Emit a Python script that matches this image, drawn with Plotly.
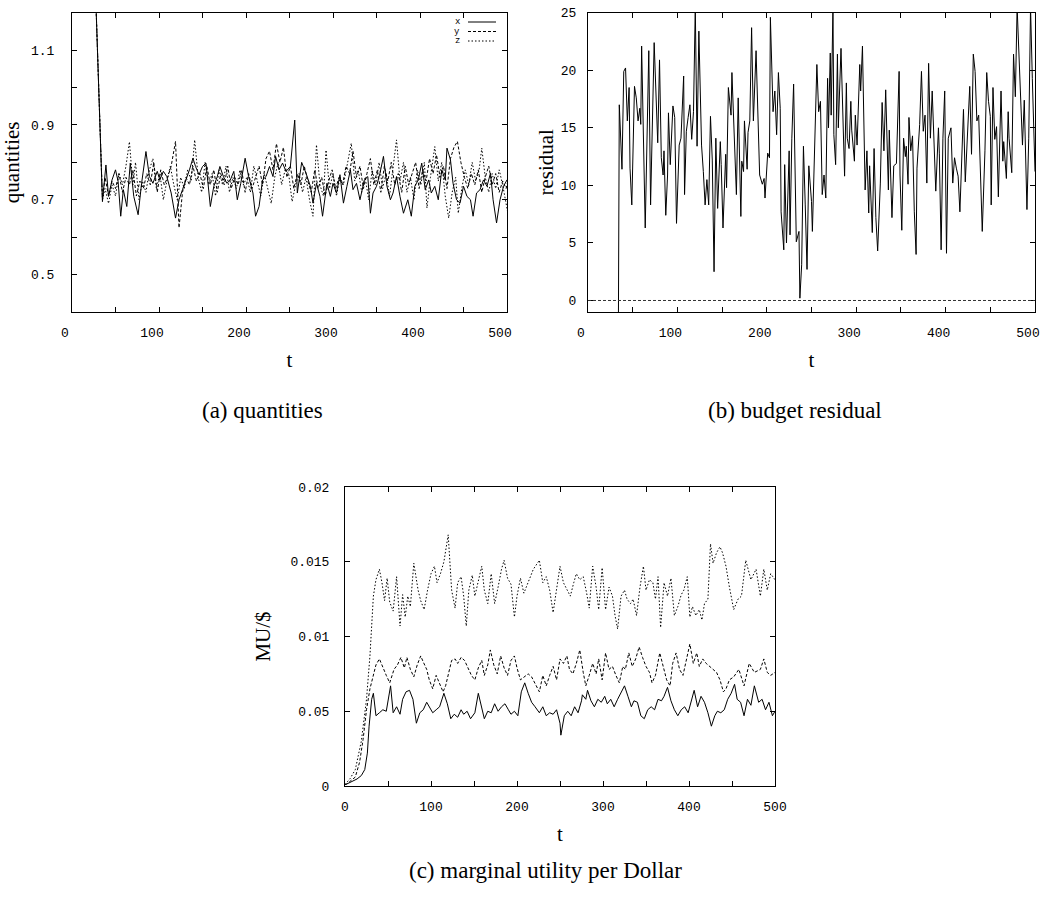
import plotly.graph_objects as go
import numpy as np

# ---------------- (a) quantities ----------------
qx_t = [0, 14, 27, 35, 39, 42, 46, 50, 53, 56, 59, 63, 67, 71, 76, 80, 85, 89, 93, 98, 101, 105, 109, 114, 119,
        123, 127, 131, 135, 139, 142, 146, 150, 154, 159, 163, 167, 170, 174, 178, 182, 186, 190, 194, 199,
        203, 208, 211, 215, 219, 223, 227, 231, 234, 238, 242, 246, 251, 256, 259, 264, 269, 274, 277, 281,
        285, 288, 293, 297, 300, 304, 308, 312, 316, 320, 323, 327, 331, 336, 340, 343, 346, 350, 354, 358,
        362, 366, 369, 373, 377, 381, 386, 390, 394, 398, 402, 406, 410, 413, 417, 421, 425, 429, 431, 435,
        438, 442, 446, 450, 454, 458, 461, 465, 469, 473, 477, 481, 484, 488, 492, 496, 500, 504]
qx_v = [3.0, 1.9, 1.26, 0.695, 0.793, 0.709, 0.753, 0.78, 0.749, 0.656, 0.727, 0.682, 0.798, 0.709, 0.66, 0.744,
        0.829, 0.762, 0.744, 0.776, 0.753, 0.776, 0.762, 0.718, 0.651, 0.70, 0.727, 0.753, 0.78, 0.811, 0.789,
        0.767, 0.789, 0.798, 0.682, 0.736, 0.762, 0.789, 0.762, 0.744, 0.753, 0.776, 0.70, 0.744, 0.811, 0.762,
        0.718, 0.656, 0.682, 0.753, 0.762, 0.789, 0.762, 0.816, 0.78, 0.798, 0.776, 0.789, 0.913, 0.718, 0.80,
        0.771, 0.736, 0.691, 0.744, 0.709, 0.656, 0.744, 0.709, 0.744, 0.718, 0.767, 0.691, 0.736, 0.78, 0.727,
        0.744, 0.70, 0.753, 0.762, 0.664, 0.718, 0.736, 0.771, 0.816, 0.736, 0.70, 0.718, 0.762, 0.709, 0.664,
        0.70, 0.656, 0.736, 0.753, 0.798, 0.727, 0.753, 0.718, 0.736, 0.70, 0.78, 0.753, 0.838, 0.807, 0.744,
        0.70, 0.691, 0.736, 0.709, 0.70, 0.656, 0.718, 0.727, 0.753, 0.736, 0.771, 0.70, 0.638, 0.70, 0.736,
        0.753, 0.736]

qy_t = [0, 14, 27, 35, 38, 42, 46, 50, 54, 58, 62, 66, 70, 74, 78, 82, 86, 90, 94, 98, 102, 106, 110, 114, 119,
        123, 127, 131, 135, 139, 143, 147, 151, 155, 159, 163, 167, 171, 175, 179, 183, 187, 191, 195, 199,
        203, 207, 211, 215, 219, 223, 227, 231, 235, 239, 243, 247, 251, 255, 259, 263, 267, 271, 275, 279,
        283, 287, 291, 295, 299, 303, 307, 311, 315, 319, 323, 327, 331, 335, 339, 343, 347, 351, 355, 359,
        363, 367, 371, 375, 379, 383, 387, 391, 395, 399, 403, 407, 411, 415, 419, 423, 427, 431, 435, 439,
        443, 447, 451, 455, 459, 463, 467, 471, 475, 479, 483, 487, 491, 495, 499, 503]
qy_v = [3.0, 1.9, 1.26, 0.70, 0.76, 0.71, 0.75, 0.73, 0.77, 0.72, 0.76, 0.74, 0.78, 0.71, 0.75, 0.73, 0.77, 0.74,
        0.80, 0.72, 0.78, 0.74, 0.76, 0.79, 0.856, 0.625, 0.72, 0.76, 0.74, 0.79, 0.75, 0.77, 0.73, 0.79, 0.74,
        0.78, 0.72, 0.77, 0.74, 0.79, 0.73, 0.76, 0.74, 0.78, 0.72, 0.77, 0.73, 0.76, 0.79, 0.74, 0.81, 0.83,
        0.78, 0.85, 0.80, 0.84, 0.76, 0.79, 0.73, 0.77, 0.74, 0.79, 0.75, 0.72, 0.78, 0.73, 0.76, 0.71, 0.75,
        0.78, 0.73, 0.76, 0.74, 0.79, 0.77, 0.83, 0.76, 0.79, 0.73, 0.77, 0.81, 0.74, 0.78, 0.72, 0.79, 0.75,
        0.80, 0.74, 0.77, 0.72, 0.79, 0.74, 0.77, 0.80, 0.73, 0.78, 0.75, 0.81, 0.77, 0.82, 0.76, 0.79, 0.73,
        0.81, 0.84, 0.856, 0.80, 0.76, 0.73, 0.77, 0.74, 0.78, 0.72, 0.76, 0.79, 0.74, 0.77, 0.72, 0.75, 0.73,
        0.77]

qz_t = [0, 14, 27, 35, 38, 42, 46, 50, 54, 58, 62, 66, 70, 73, 77, 81, 85, 89, 93, 97, 101, 105, 109, 113, 117,
        121, 125, 129, 133, 137, 141, 145, 149, 153, 157, 161, 165, 169, 173, 177, 181, 185, 189, 193, 197,
        201, 205, 209, 213, 217, 221, 225, 229, 233, 237, 241, 245, 249, 253, 257, 261, 265, 269, 273, 277,
        281, 285, 289, 292, 296, 300, 304, 308, 312, 316, 321, 325, 329, 333, 337, 341, 345, 349, 353, 357,
        361, 365, 369, 373, 377, 381, 385, 389, 393, 397, 401, 405, 408, 412, 417, 421, 425, 429, 433, 437,
        441, 444, 448, 452, 456, 460, 464, 468, 471, 475, 479, 483, 487, 491, 495, 498, 501, 504]
qz_v = [3.0, 1.9, 1.26, 0.70, 0.73, 0.69, 0.74, 0.71, 0.77, 0.74, 0.79, 0.855, 0.74, 0.80, 0.70, 0.75, 0.72, 0.78,
        0.81, 0.73, 0.77, 0.70, 0.75, 0.79, 0.74, 0.70, 0.76, 0.73, 0.78, 0.75, 0.86, 0.76, 0.72, 0.80, 0.74,
        0.77, 0.71, 0.78, 0.74, 0.79, 0.72, 0.76, 0.73, 0.78, 0.74, 0.76, 0.72, 0.79, 0.75, 0.71, 0.77, 0.73,
        0.69, 0.76, 0.80, 0.74, 0.78, 0.77, 0.695, 0.74, 0.77, 0.72, 0.76, 0.70, 0.656, 0.847, 0.74, 0.71,
        0.833, 0.73, 0.77, 0.71, 0.76, 0.74, 0.79, 0.851, 0.75, 0.78, 0.72, 0.76, 0.70, 0.78, 0.74, 0.80, 0.73,
        0.77, 0.71, 0.79, 0.86, 0.75, 0.80, 0.72, 0.76, 0.70, 0.78, 0.74, 0.80, 0.678, 0.76, 0.842, 0.75, 0.80,
        0.71, 0.651, 0.72, 0.76, 0.664, 0.73, 0.78, 0.74, 0.80, 0.75, 0.78, 0.838, 0.76, 0.72, 0.77, 0.73,
        0.78, 0.74, 0.70, 0.664, 0.72]

# ---------------- (b) budget residual ----------------
res_t = [32, 35, 38, 40, 42, 44, 46, 47, 49, 52, 54, 56, 58, 59, 60, 63, 64, 68, 70, 74, 78, 80, 82, 84, 85, 87,
         89, 90, 92, 95, 97, 99, 102, 104, 107, 108, 110, 112, 114, 116, 118, 120, 122, 124, 127, 129, 131,
         133, 135, 137, 139, 141, 143, 145, 148, 149, 151, 154, 155, 157, 160, 161, 163, 164, 166, 168, 171,
         172, 174, 175, 178, 179, 181, 183, 185, 188, 190, 192, 195, 197, 198, 201, 203, 204, 207, 209, 211,
         213, 215, 216, 219, 220, 222, 225, 226, 228, 230, 231, 233, 236, 237, 239, 241, 243, 245, 247, 250,
         251, 254, 256, 258, 260, 262, 264, 266, 268, 269, 271, 272, 274, 275, 277, 279, 280, 283, 285, 287,
         289, 290, 292, 294, 295, 298, 299, 301, 304, 305, 307, 309, 310, 312, 314, 315, 318, 320, 322, 324,
         327, 329, 331, 333, 336, 337, 340, 342, 345, 348, 349, 351, 353, 355, 356, 358, 359, 361, 363, 365,
         367, 368, 371, 373, 375, 377, 379, 381, 383, 385, 388, 389, 392, 393, 395, 397, 399, 401, 403, 406,
         408, 410, 412, 414, 416, 418, 420, 422, 424, 425, 427, 429, 431, 433, 435, 437, 439, 441, 444, 446,
         448, 450, 451, 453, 455, 457, 459, 462, 464, 465, 468, 470, 471, 474, 476, 478, 480, 483, 485, 486,
         488, 491, 493, 495, 497, 500]
res_v = [-40.0, 17.0, 11.4, 19.9, 20.2, 15.6, 18.5, 11.5, 8.3, 18.6, 17.6, 15.6, 16.7, 15.3, 22.1, 9.2, 6.3, 21.7,
         8.3, 22.4, 13.7, 20.9, 12.4, 10.9, 13.0, 7.4, 10.9, 16.3, 11.8, 16.9, 15.9, 6.7, 13.5, 14.1, 19.5, 9.2,
         14.7, 15.9, 17.0, 14.0, 16.4, 25.5, 13.4, 23.4, 13.5, 11.2, 8.3, 10.5, 8.3, 16.0, 12.2, 2.5, 14.1, 8.0,
         13.8, 11.8, 6.3, 12.7, 9.8, 18.5, 16.1, 19.8, 15.0, 13.5, 9.2, 17.6, 7.3, 12.1, 11.2, 15.6, 11.4, 14.6,
         15.6, 23.7, 15.6, 21.7, 15.3, 10.9, 10.1, 10.6, 8.9, 12.8, 12.4, 24.6, 16.4, 18.2, 14.4, 19.8, 16.7,
         7.7, 4.4, 11.8, 5.0, 13.0, 5.7, 14.1, 18.8, 14.1, 5.1, 6.0, 0.2, 3.1, 13.4, 8.3, 2.7, 11.7, 8.6, 6.0,
         14.4, 20.5, 16.4, 17.3, 9.2, 10.9, 8.9, 19.3, 15.0, 21.5, 16.1, 25.5, 14.4, 11.8, 21.4, 15.0, 21.9,
         16.4, 10.8, 18.9, 14.1, 13.2, 17.3, 14.8, 12.1, 16.1, 13.5, 20.5, 18.2, 22.1, 15.0, 9.6, 13.0, 7.6,
         11.7, 5.9, 13.2, 7.2, 4.3, 10.2, 17.2, 13.0, 18.3, 9.6, 14.8, 7.2, 11.7, 11.9, 19.9, 10.9, 6.1, 14.1,
         12.5, 13.4, 10.1, 15.9, 13.0, 14.3, 7.7, 4.0, 11.5, 15.3, 19.9, 14.7, 16.1, 10.2, 20.6, 14.1, 18.2,
         11.7, 9.5, 15.0, 12.8, 4.4, 14.1, 18.2, 4.1, 14.1, 15.0, 10.2, 12.4, 11.5, 10.8, 7.7, 11.8, 16.6, 10.3,
         13.5, 15.6, 18.6, 12.7, 21.4, 19.9, 15.6, 16.1, 11.8, 6.0, 13.0, 19.8, 17.3, 16.0, 8.3, 18.5, 14.0,
         15.1, 9.0, 18.2, 12.1, 13.8, 10.6, 16.4, 14.1, 11.1, 21.4, 17.7, 25.5, 19.6, 14.1, 13.5, 17.4, 7.9,
         14.1, 25.5, 19.3, 11.2]
budget_reference = 0.0

# ---------------- (c) marginal utility per Dollar (values in 1e-3) ----------------
mz_t = [0, 6, 12, 19, 25, 29, 33, 36, 40, 43, 46, 49, 52, 56, 60, 64, 67, 70, 73, 76, 80, 85, 88, 92, 96, 100,
        104, 107, 111, 115, 120, 124, 128, 131, 135, 138, 141, 144, 148, 151, 155, 159, 162, 166, 170, 174,
        178, 182, 185, 189, 193, 197, 200, 204, 208, 213, 219, 226, 230, 234, 238, 242, 246, 250, 254, 258,
        262, 266, 269, 273, 277, 281, 284, 288, 292, 295, 299, 303, 307, 311, 314, 317, 321, 325, 328, 332,
        335, 339, 343, 347, 350, 354, 358, 361, 364, 367, 371, 375, 379, 383, 387, 391, 394, 398, 401, 404,
        408, 412, 415, 418, 422, 425, 428, 432, 436, 439, 443, 447, 452, 457, 461, 466, 472, 478, 483, 487,
        491, 495, 500]
mz_v = [0.1, 0.5, 1.1, 3.0, 5.8, 8.7, 12.7, 13.8, 14.5, 13.6, 12.4, 13.9, 12.3, 11.7, 14.0, 10.7, 12.8, 11.3,
        12.7, 12.0, 14.9, 13.1, 12.4, 11.8, 13.1, 14.2, 14.7, 13.6, 14.2, 15.0, 16.8, 13.1, 11.9, 13.6, 14.0,
        12.7, 10.7, 13.1, 14.1, 12.7, 13.7, 14.7, 13.1, 12.2, 14.2, 12.2, 13.3, 14.5, 15.1, 13.9, 13.5, 11.3,
        12.7, 13.9, 12.9, 13.6, 14.5, 15.1, 13.6, 14.0, 13.1, 11.6, 13.1, 14.7, 13.6, 13.1, 12.7, 13.6, 14.2,
        13.8, 14.0, 12.9, 11.9, 14.7, 13.3, 11.8, 14.6, 11.8, 13.3, 12.7, 11.4, 10.5, 12.7, 13.1, 12.5, 12.2,
        12.5, 11.4, 13.3, 14.7, 13.1, 13.8, 13.6, 12.5, 14.0, 10.6, 13.6, 12.7, 13.9, 11.4, 12.0, 12.8, 13.1,
        14.0, 11.3, 12.0, 11.4, 11.8, 11.1, 12.2, 12.5, 16.2, 14.9, 15.6, 16.0, 15.6, 14.7, 13.3, 11.8, 12.5,
        12.7, 15.1, 13.8, 14.5, 12.7, 14.5, 13.1, 14.2, 13.8]

my_t = [0, 2, 12, 17, 21, 25, 29, 33, 36, 40, 44, 48, 52, 57, 61, 65, 69, 72, 76, 80, 84, 88, 91, 95, 98, 102,
        106, 110, 114, 117, 120, 124, 128, 131, 135, 139, 143, 147, 151, 155, 159, 162, 166, 169, 173, 177,
        181, 185, 189, 193, 197, 200, 204, 208, 213, 217, 222, 226, 230, 234, 238, 242, 246, 250, 254, 258,
        261, 265, 269, 273, 277, 280, 284, 288, 292, 295, 299, 303, 307, 311, 315, 319, 323, 326, 330, 334,
        338, 342, 346, 350, 354, 357, 361, 366, 370, 374, 378, 381, 385, 389, 393, 397, 401, 405, 409, 412,
        416, 420, 424, 428, 432, 436, 440, 443, 447, 452, 458, 464, 470, 476, 483, 487, 491, 495, 500]
my_v = [0.1, 0.13, 0.6, 1.6, 3.1, 5.1, 6.5, 7.5, 8.1, 8.5, 7.9, 7.4, 6.9, 7.8, 8.1, 8.6, 7.9, 8.6, 7.8, 7.3,
        8.1, 8.7, 8.3, 7.8, 7.1, 6.5, 7.4, 6.9, 6.3, 6.7, 7.4, 8.4, 8.5, 8.2, 8.6, 8.4, 7.9, 7.4, 7.1, 7.9,
        8.4, 7.4, 8.1, 9.1, 8.1, 7.5, 8.7, 7.9, 7.4, 8.4, 8.7, 7.9, 7.1, 7.3, 7.5, 7.3, 6.7, 6.3, 7.4, 6.7,
        7.4, 8.0, 7.1, 8.5, 8.2, 8.7, 7.8, 7.5, 8.2, 9.1, 7.6, 6.7, 7.4, 8.2, 7.5, 8.5, 7.1, 8.9, 7.8, 8.0,
        7.4, 6.9, 8.0, 7.8, 8.9, 8.0, 8.5, 9.3, 8.6, 8.0, 7.6, 6.9, 7.4, 8.9, 8.0, 7.1, 6.7, 8.2, 8.9, 7.8,
        7.4, 8.5, 9.5, 8.2, 8.9, 8.0, 8.5, 8.2, 8.0, 7.8, 7.6, 7.1, 6.3, 6.5, 7.1, 7.3, 7.8, 6.7, 8.2, 7.6,
        7.8, 8.5, 7.6, 7.4, 7.6]

mx_t = [0, 2, 14, 19, 23, 26, 28, 31, 33, 36, 40, 44, 48, 53, 56, 60, 64, 67, 71, 75, 79, 83, 87, 91, 95, 99,
        102, 106, 110, 115, 119, 123, 127, 131, 135, 138, 142, 146, 151, 155, 159, 162, 166, 170, 174, 178,
        182, 186, 190, 193, 197, 201, 205, 209, 213, 217, 221, 226, 230, 234, 238, 242, 246, 250, 251, 255,
        259, 263, 267, 271, 275, 276, 280, 282, 286, 290, 294, 298, 302, 305, 309, 313, 317, 321, 325, 329,
        333, 336, 340, 344, 348, 352, 356, 360, 364, 368, 371, 375, 379, 383, 387, 391, 395, 399, 402, 406,
        410, 414, 418, 422, 426, 430, 433, 437, 441, 445, 449, 453, 456, 460, 464, 468, 472, 476, 481, 485,
        489, 493, 497, 500]
mx_v = [0.1, 0.13, 0.47, 0.7, 1.1, 2.2, 4.0, 5.8, 6.2, 4.7, 4.9, 5.1, 5.0, 6.7, 4.9, 5.3, 4.8, 5.8, 6.3, 6.4,
        5.8, 4.2, 4.9, 5.1, 5.6, 5.2, 4.9, 5.1, 5.3, 6.2, 5.5, 4.5, 4.8, 4.6, 5.1, 4.8, 5.0, 4.5, 4.9, 6.2,
        5.1, 4.5, 5.0, 4.9, 5.5, 5.0, 5.3, 5.5, 5.1, 4.8, 5.0, 4.7, 6.3, 6.9, 6.2, 5.6, 5.3, 4.9, 5.3, 4.7,
        4.9, 4.8, 5.1, 4.2, 3.4, 4.7, 5.0, 4.7, 5.3, 4.9, 5.7, 6.1, 5.8, 6.4, 5.7, 5.3, 5.8, 5.6, 6.0, 5.5,
        5.8, 5.3, 5.8, 6.2, 6.7, 6.0, 5.3, 5.7, 5.6, 4.7, 4.5, 5.1, 5.3, 5.1, 5.8, 5.7, 6.0, 6.6, 5.7, 5.1,
        4.7, 5.1, 5.3, 4.9, 5.6, 6.4, 5.3, 6.0, 5.6, 4.9, 4.0, 4.7, 5.0, 4.9, 5.1, 5.8, 6.2, 6.8, 5.8, 5.6,
        4.7, 5.8, 5.4, 6.7, 5.6, 5.8, 5.1, 5.6, 4.7, 5.0]

# ---------------- tick labels ----------------
t_tickvals = list(range(0, 501, 50))
t_ticktext = [str(v) if v % 100 == 0 else "" for v in t_tickvals]
qa_tickvals = [0.5, 0.6, 0.7, 0.8, 0.9, 1.0, 1.1]
qa_ticktext = ["0.5", "", "0.7", "", "0.9", "", "1.1"]
res_tickvals = [0, 5, 10, 15, 20, 25]
res_ticktext = ["0", "5", "10", "15", "20", "25"]
mu_tickvals = [0, 0.005, 0.01, 0.015, 0.02]
mu_ticktext = ["0", "0.05", "0.01", "0.015", "0.02"]
series_names = ["x", "y", "z"]

BLACK = "black"
DASH = "3px,2px"
DOT = "1.5px,2px"
dashes = ["solid", DASH, DOT]

fig = go.Figure()

for name, tt, vv, dsh in zip(series_names, [qx_t, qy_t, qz_t], [qx_v, qy_v, qz_v], dashes):
    fig.add_trace(go.Scatter(x=tt, y=vv, mode="lines", name=name, xaxis="x", yaxis="y",
                             line=dict(color=BLACK, width=1, dash=dsh), showlegend=False))

fig.add_trace(go.Scatter(x=res_t, y=res_v, mode="lines", name="residual", xaxis="x2", yaxis="y2",
                         line=dict(color=BLACK, width=1), showlegend=False))
fig.add_shape(type="line", xref="x2 domain", yref="y2", x0=0, x1=1,
              y0=budget_reference, y1=budget_reference,
              line=dict(color="#333", width=1, dash=DASH))

for name, tt, vv, dsh in zip(series_names, [mx_t, my_t, mz_t], [mx_v, my_v, mz_v], dashes):
    fig.add_trace(go.Scatter(x=tt, y=np.array(vv) / 1000.0, mode="lines", name=name, xaxis="x3", yaxis="y3",
                             line=dict(color=BLACK, width=1, dash=dsh), showlegend=False))

tickfont = dict(family="Liberation Mono", size=13, color=BLACK)
titlefont = dict(family="Liberation Serif", size=21, color=BLACK)
axis_common = dict(showline=True, linecolor=BLACK, linewidth=1, mirror="ticks", ticks="inside",
                   ticklen=5, tickwidth=1, tickcolor=BLACK, showgrid=False, zeroline=False,
                   tickfont=tickfont, automargin=False)

def xax(domain, anchor, shift, standoff=12):
    return dict(axis_common, domain=domain, anchor=anchor, range=[0, 500], tickmode="array",
                tickvals=t_tickvals, ticktext=t_ticktext, ticklabelshift=shift, ticklabelstandoff=8,
                title=dict(text="t", font=titlefont, standoff=standoff))

W, H = 1040, 898
dom_a_x = [72 / W, 507 / W]
dom_b_x = [588 / W, 1035 / W]
dom_c_x = [345 / W, 775 / W]
dom_ab_y = [1 - 312 / H, 1 - 12.7 / H]
dom_c_y = [1 - 786 / H, 1 - 487 / H]

fig.update_layout(
    width=W, height=H, margin=dict(l=0, r=0, t=0, b=0),
    paper_bgcolor="white", plot_bgcolor="white", showlegend=False,
    xaxis=xax(dom_a_x, "y", -7),
    yaxis=dict(axis_common, domain=dom_ab_y, anchor="x", range=[0.4, 1.2], tickmode="array",
               tickvals=qa_tickvals, ticktext=qa_ticktext, ticklabelstandoff=14,
               title=dict(text="quantities", font=titlefont, standoff=7)),
    xaxis2=xax(dom_b_x, "y2", -7),
    yaxis2=dict(axis_common, domain=dom_ab_y, anchor="x2", range=[-1, 25], tickmode="array",
                tickvals=res_tickvals, ticktext=res_ticktext, ticklabelstandoff=8,
                title=dict(text="residual", font=titlefont, standoff=1)),
    xaxis3=xax(dom_c_x, "y3", 0),
    yaxis3=dict(axis_common, domain=dom_c_y, anchor="x3", range=[0, 0.02], tickmode="array",
                tickvals=mu_tickvals, ticktext=mu_ticktext, ticklabelstandoff=12,
                title=dict(text="MU/$", font=titlefont, standoff=14)),
)

# legend of panel (a): label on the left, line sample on the right
leg_y = [1 - 22 / H, 1 - 31.5 / H, 1 - 41 / H]
for name, dsh, yy in zip(series_names, dashes, leg_y):
    fig.add_annotation(x=462 / W, y=yy, xref="paper", yref="paper", text=name, showarrow=False,
                       xanchor="right", yanchor="middle",
                       font=dict(family="Liberation Mono", size=9, color=BLACK))
    fig.add_shape(type="line", xref="paper", yref="paper", x0=468 / W, x1=496 / W, y0=yy, y1=yy,
                  line=dict(color=BLACK, width=1, dash=dsh))

captions = ["(a) quantities", "(b) budget residual", "(c) marginal utility per Dollar"]
cap_pos = [(262 / W, 1 - 410 / H), (795 / W, 1 - 410 / H), (545 / W, 1 - 870 / H)]
for txt, (cx, cy) in zip(captions, cap_pos):
    fig.add_annotation(x=cx, y=cy, xref="paper", yref="paper", text=txt, showarrow=False,
                       xanchor="center", yanchor="middle",
                       font=dict(family="Liberation Serif", size=23, color=BLACK))

fig.write_html("out.html")
